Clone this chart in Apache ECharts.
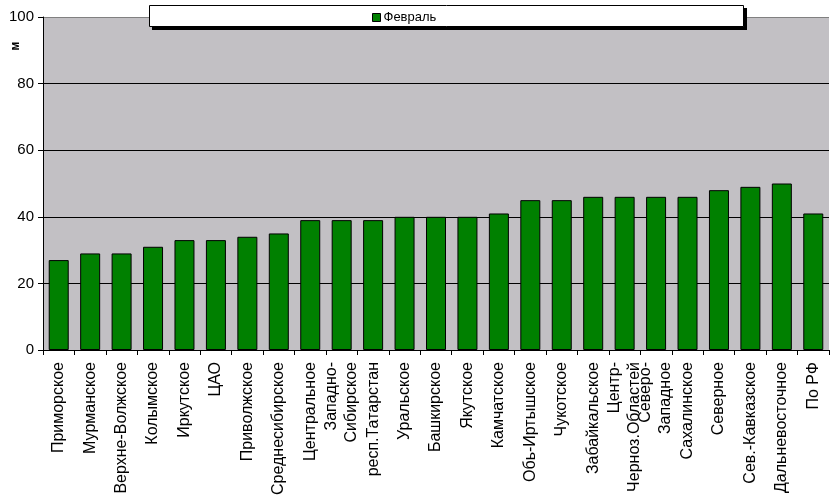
<!DOCTYPE html>
<html><head><meta charset="utf-8">
<script src="https://cdn.jsdelivr.net/npm/echarts@6/dist/echarts.min.js"></script>
<style>html,body{margin:0;padding:0;background:#fff}#c{width:835px;height:502px}</style>
</head><body><div id="c"></div>
<script>
const categories = ['Приморское','Мурманское','Верхне-Волжское','Колымское','Иркутское','ЦАО','Приволжское','Среднесибирское','Центральное','Западно-\nСибирское','респ.Татарстан','Уральское','Башкирское','Якутское','Камчатское','Обь-Иртышское','Чукотское','Забайкальское','Центр-\nЧерноз.Областей','Северо-\nЗападное','Сахалинское','Северное','Сев.-Кавказское','Дальневосточное','По РФ'];
const february = [27,29,29,31,33,33,34,35,39,39,39,40,40,40,41,45,45,46,46,46,46,48,49,50,41];
const seriesName = 'Февраль';
const yAxisTitle = 'м';

const chart = echarts.init(document.getElementById('c'));
const font = 'Liberation Sans, Arial, sans-serif';
chart.setOption({
  animation: false,
  graphic: [
    {type:'rect', z: 5, shape:{x:152,y:8,width:595,height:22}, style:{fill:'#000'}},
    {type:'rect', z: 6, shape:{x:149.5,y:5.5,width:594,height:21}, style:{fill:'#fff',stroke:'#000',lineWidth:1}},
    {type:'text', z: 5, x: 16, y: 46, rotation: Math.PI/2, style:{text: yAxisTitle, font:'bold 12px '+font, fill:'#000', align:'center', verticalAlign:'middle'}}
  ],
  legend: {
    z: 10,
    top: 6, left: 367,
    itemWidth: 8, itemHeight: 8, itemGap: 4,
    textStyle: {fontFamily: font, fontSize: 13, color: '#000', padding:[0,0,0,-2]},
    data: [{name: seriesName, icon: 'rect', itemStyle:{borderColor:'#000',borderWidth:1}}]
  },
  grid: {left: 43, right: 6, top: 17, bottom: 152, show: true, backgroundColor: '#c2c0c4', borderWidth: 0},
  xAxis: {
    type: 'category', data: categories, boundaryGap: true,
    axisLine: {lineStyle:{color:'#000', width:1}},
    axisTick: {show:true, length:5, inside:false, alignWithLabel:false, lineStyle:{color:'#000'}},
    axisLabel: {rotate: 90, interval: 0, margin: 12, fontFamily: font, fontSize: 16, color: '#000', lineHeight: 20}
  },
  yAxis: {
    type: 'value', min: 0, max: 100, interval: 20,
    axisLine: {show:true, lineStyle:{color:'#000'}},
    axisTick: {show:true, length:5, lineStyle:{color:'#000'}},
    axisLabel: {fontFamily: font, fontSize: 15, color: '#000', margin: 9},
    splitLine: {show:true, lineStyle:{color:['#000','#000','#000','#000','#000','#808080'], width:1}}
  },
  series: [{
    name: seriesName, type: 'bar', data: february, barWidth: 20,
    itemStyle: {color: '#008000', borderColor: '#000', borderWidth: 1}
  }]
});
</script></body></html>
